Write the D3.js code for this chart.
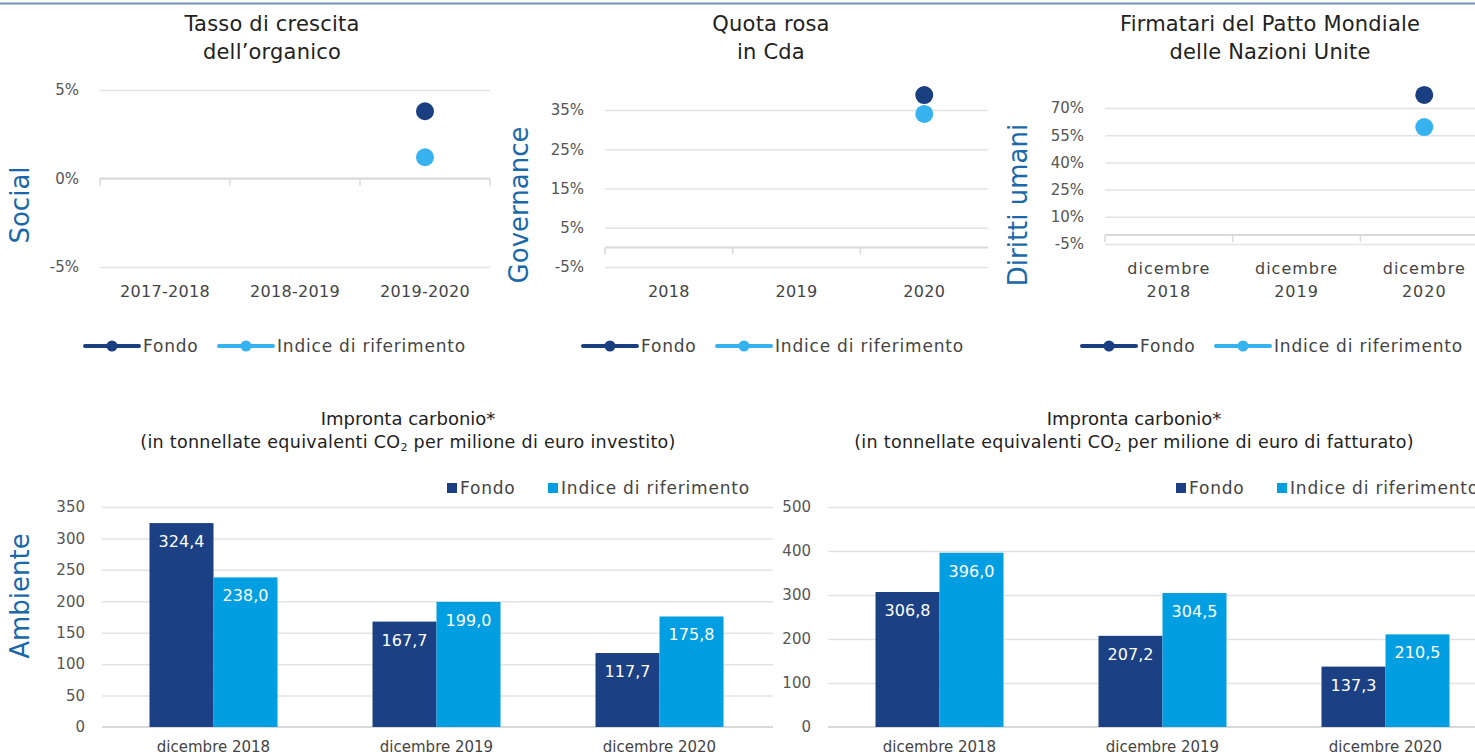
<!DOCTYPE html>
<html lang="it">
<head>
<meta charset="UTF-8">
<script src="https://cdn.jsdelivr.net/npm/d3@7/dist/d3.min.js"></script>
<style>
  body { margin: 0; background: #fff; }
  svg { display: block; font-family: "DejaVu Sans", sans-serif; }
  .grid line { stroke: #e3e3e3; stroke-width: 1.5; }
  .grid path { display: none; }
  .ylab text { fill: #555; font-size: 15px; font-family: "DejaVu Sans", sans-serif; }
  .ylab path, .ylab line { display: none; }
  .cat { fill: #444; font-size: 16px; text-anchor: middle; }
  .title { fill: #222; font-size: 21px; text-anchor: middle; letter-spacing: 0.2px; }
  .side { fill: #1a68aa; font-size: 26px; text-anchor: middle; }
  .leg { fill: #444; font-size: 17px; letter-spacing: 0.8px; }
  .btitle { fill: #222; text-anchor: middle; }
  .bar-lab { fill: #fff; font-size: 16px; text-anchor: middle; }
</style>
</head>
<body>
<svg></svg>
<script>
// ---- data ----
var seriesNames = ["Fondo", "Indice di riferimento"];

var socialCats = ["2017-2018", "2018-2019", "2019-2020"];
var socialFondo = [null, null, 3.8];
var socialIndice = [null, null, 1.2];
var socialTicks = [-5, 0, 5];

var govCats = ["2018", "2019", "2020"];
var govFondo = [null, null, 38.8];
var govIndice = [null, null, 34.0];
var govTicks = [-5, 5, 15, 25, 35];

var hrCats = ["dicembre 2018", "dicembre 2019", "dicembre 2020"];
var hrFondo = [null, null, 77.2];
var hrIndice = [null, null, 59.5];
var hrTicks = [-5, 10, 25, 40, 55, 70];

var carbonCats = ["dicembre 2018", "dicembre 2019", "dicembre 2020"];
var invFondo = [324.4, 167.7, 117.7];
var invIndice = [238.0, 199.0, 175.8];
var invTicks = [0, 50, 100, 150, 200, 250, 300, 350];
var revFondo = [306.8, 207.2, 137.3];
var revIndice = [396.0, 304.5, 210.5];
var revTicks = [0, 100, 200, 300, 400, 500];

var dotCol = ["#1a3f80", "#36b3ef"];
var barCol = ["#1b4084", "#019fe2"];

var W = 1475, H = 756;
var svg = d3.select("svg").attr("width", W).attr("height", H);

// top border
svg.append("line").attr("x1", 0).attr("x2", W).attr("y1", 3.5).attr("y2", 3.5)
  .attr("stroke", "#7591b5").attr("stroke-width", 2);

function dotChart(c) {
  var g = svg.append("g");
  var x = d3.scaleBand().domain(c.cats).range([c.x0, c.x0 + c.step * 3]);
  var y = d3.scaleLinear().domain([c.ticks[0], c.ticks[c.ticks.length - 1]]).range([c.yb, c.yt]);

  g.append("g").attr("class", "grid")
    .attr("transform", "translate(" + c.x0 + ",0)")
    .call(d3.axisLeft(y).tickValues(c.ticks).tickSize(-(c.x1 - c.x0)).tickFormat(""));
  g.append("g").attr("class", "ylab")
    .attr("transform", "translate(" + (c.x0 - 18) + ",0)")
    .call(d3.axisLeft(y).tickValues(c.ticks).tickSize(0).tickFormat(function(d) { return d + "%"; }));

  // zero axis with boundary ticks
  var y0 = y(0);
  g.append("line").attr("x1", c.x0).attr("x2", c.x1).attr("y1", y0).attr("y2", y0)
    .attr("stroke", "#d9d9d9").attr("stroke-width", 2);
  var bounds = c.cats.map(function(d) { return x(d); }).concat([c.x0 + c.step * 3]);
  g.selectAll(".tk").data(bounds.filter(function(b) { return b <= c.x1; })).enter().append("line")
    .attr("x1", function(d) { return d; }).attr("x2", function(d) { return d; })
    .attr("y1", y0).attr("y2", y0 + 7).attr("stroke", "#d9d9d9").attr("stroke-width", 1.5);

  // category labels
  c.cats.forEach(function(cat) {
    var cx = x(cat) + x.bandwidth() / 2;
    var lines = c.wrap ? cat.split(" ") : [cat];
    lines.forEach(function(t, i) {
      g.append("text").attr("class", "cat").attr("x", cx)
        .attr("y", c.catY + i * 23).style("letter-spacing", c.wrap ? "1px" : "0.3px").text(t);
    });
  });

  // dots
  [c.fondo, c.indice].forEach(function(vals, si) {
    g.selectAll(null).data(vals.map(function(v, i) { return { v: v, cat: c.cats[i] }; })
      .filter(function(d) { return d.v != null; }))
      .enter().append("circle")
      .attr("cx", function(d) { return x(d.cat) + x.bandwidth() / 2; })
      .attr("cy", function(d) { return y(d.v); })
      .attr("r", 9).attr("fill", dotCol[si]);
  });

  // title
  c.title.forEach(function(t, i) {
    g.append("text").attr("class", "title").attr("x", c.tx).attr("y", 31 + i * 28).text(t);
  });
  // side label
  g.append("text").attr("class", "side")
    .attr("transform", "translate(" + c.sx + "," + c.sy + ") rotate(-90)").text(c.side);

  // legend
  var lx = c.lx;
  seriesNames.forEach(function(n, i) {
    var ox = lx + (i === 0 ? 0 : 134);
    g.append("line").attr("x1", ox).attr("x2", ox + 54).attr("y1", 346).attr("y2", 346)
      .attr("stroke", dotCol[i]).attr("stroke-width", 4).attr("stroke-linecap", "round");
    g.append("circle").attr("cx", ox + 27).attr("cy", 346).attr("r", 5.5).attr("fill", dotCol[i]);
    g.append("text").attr("class", "leg").attr("x", ox + 58).attr("y", 352).text(n);
  });
}

dotChart({ cats: socialCats, fondo: socialFondo, indice: socialIndice, ticks: socialTicks,
  x0: 100, x1: 490, step: 130, yt: 90, yb: 267, catY: 297, tx: 272,
  title: ["Tasso di crescita", "dell\u2019organico"], side: "Social", sx: 29, sy: 205, lx: 85 });

dotChart({ cats: govCats, fondo: govFondo, indice: govIndice, ticks: govTicks,
  x0: 605, x1: 988, step: 127.7, yt: 110, yb: 267, catY: 297, tx: 771,
  title: ["Quota rosa", "in Cda"], side: "Governance", sx: 528, sy: 205, lx: 583 });

dotChart({ cats: hrCats, fondo: hrFondo, indice: hrIndice, ticks: hrTicks,
  x0: 1105, x1: 1475, step: 127.7, yt: 108, yb: 244, catY: 274, wrap: true, tx: 1270,
  title: ["Firmatari del Patto Mondiale", "delle Nazioni Unite"], side: "Diritti umani", sx: 1027, sy: 205, lx: 1082 });

function barChart(c) {
  var g = svg.append("g");
  var x = d3.scaleBand().domain(c.cats).range([c.x0, c.x0 + 669]).paddingInner(0.426).paddingOuter(0.213);
  var xs = d3.scaleBand().domain([0, 1]).range([0, x.bandwidth()]);
  var y = d3.scaleLinear().domain([0, c.ticks[c.ticks.length - 1]]).range([727, 507]);

  g.append("g").attr("class", "grid")
    .attr("transform", "translate(" + c.x0 + ",0)")
    .call(d3.axisLeft(y).tickValues(c.ticks.slice(1)).tickSize(-(c.x1 - c.x0)).tickFormat(""));
  g.append("line").attr("x1", c.x0).attr("x2", c.x1).attr("y1", 727).attr("y2", 727)
    .attr("stroke", "#d9d9d9").attr("stroke-width", 2);
  g.append("g").attr("class", "ylab")
    .attr("transform", "translate(" + (c.x0 - 14) + ",0)")
    .call(d3.axisLeft(y).tickValues(c.ticks).tickSize(0));

  var rows = c.cats.map(function(cat, i) { return { cat: cat, v: [c.fondo[i], c.indice[i]] }; });
  var grp = g.selectAll(".grp").data(rows).enter().append("g")
    .attr("transform", function(d) { return "translate(" + x(d.cat) + ",0)"; });
  grp.selectAll("rect").data(function(d) { return d.v; }).enter().append("rect")
    .attr("x", function(d, i) { return xs(i); })
    .attr("width", xs.bandwidth())
    .attr("y", function(d) { return y(d); })
    .attr("height", function(d) { return 727 - y(d); })
    .attr("fill", function(d, i) { return barCol[i]; });
  grp.selectAll(".bar-lab").data(function(d) { return d.v; }).enter().append("text")
    .attr("class", "bar-lab")
    .attr("x", function(d, i) { return xs(i) + xs.bandwidth() / 2; })
    .attr("y", function(d) { return y(d) + 24; })
    .text(function(d) { return d.toFixed(1).replace(".", ","); });
  grp.append("text").attr("class", "cat").style("font-size", "15px")
    .attr("x", x.bandwidth() / 2).attr("y", 752).text(function(d) { return d.cat; });

  // titles
  g.append("text").attr("class", "btitle").attr("x", c.tx).attr("y", 425)
    .style("font-size", "18px").text("Impronta carbonio*");
  var st = g.append("text").attr("class", "btitle").attr("x", c.tx).attr("y", 448)
    .style("font-size", "17.5px").style("letter-spacing", "0.3px");
  st.append("tspan").text("(in tonnellate equivalenti CO");
  st.append("tspan").attr("font-size", "11px").attr("dy", 3).text("2");
  st.append("tspan").attr("dy", -3).text(" per milione di euro " + c.sub + ")");

  // legend
  seriesNames.forEach(function(n, i) {
    var ox = c.lx + (i === 0 ? 0 : 101);
    g.append("rect").attr("x", ox).attr("y", 483).attr("width", 10).attr("height", 10).attr("fill", barCol[i]);
    g.append("text").attr("class", "leg")
      .attr("x", ox + 13).attr("y", 494).text(n);
  });
}

barChart({ cats: carbonCats, fondo: invFondo, indice: invIndice, ticks: invTicks,
  x0: 102, x1: 773, tx: 408, sub: "investito", lx: 447 });
barChart({ cats: carbonCats, fondo: revFondo, indice: revIndice, ticks: revTicks,
  x0: 828, x1: 1475, tx: 1134, sub: "di fatturato", lx: 1176 });

svg.append("text").attr("class", "side")
  .attr("transform", "translate(29,596) rotate(-90)").text("Ambiente");
</script>
</body>
</html>
